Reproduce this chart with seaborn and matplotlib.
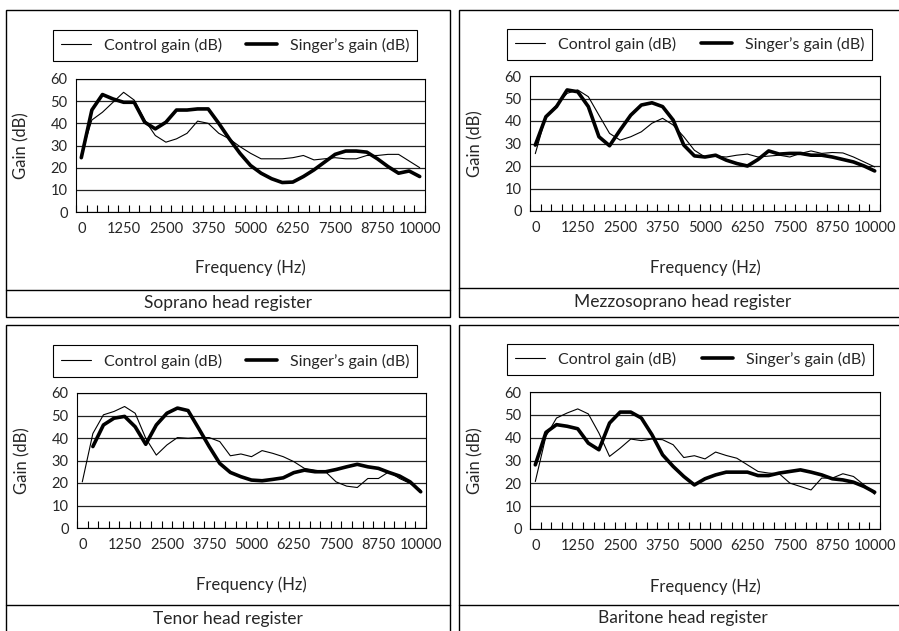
import numpy as np
import pandas as pd
import matplotlib
matplotlib.use("Agg")
import matplotlib.pyplot as plt
import seaborn as sns
from matplotlib.lines import Line2D
from matplotlib.patches import Rectangle
from matplotlib.ticker import MultipleLocator

# frequency categories (Hz), one point per category
freq_hz = [0, 312.5, 625, 937.5, 1250, 1562.5, 1875, 2187.5, 2500, 2812.5,
           3125, 3437.5, 3750, 4062.5, 4375, 4687.5, 5000, 5312.5, 5625, 5937.5,
           6250, 6562.5, 6875, 7187.5, 7500, 7812.5, 8125, 8437.5, 8750, 9062.5,
           9375, 9687.5, 10000]
x_ticks = [0, 1250, 2500, 3750, 5000, 6250, 7500, 8750, 10000]
x_tick_labels = ["0", "1250", "2500", "3750", "5000", "6250", "7500", "8750", "10000"]
y_ticks = [0, 10, 20, 30, 40, 50, 60]
series_labels = ["Control gain (dB)", "Singer\u2019s gain (dB)"]
captions = ["Soprano head register", "Mezzosoprano head register",
            "Tenor head register", "Baritone head register"]

soprano_control = [26, 41.5, 45, 49.5, 54, 50.5, 41.5, 34.5, 31.5, 33, 35.5, 41, 40,
                   35.5, 33, 29.5, 26.5, 24, 24, 24, 24.5, 25.5, 23.5, 24, 24.5, 24,
                   24, 25.5, 25.5, 26, 26, 23, 20]
soprano_singer = [24.5, 46, 53, 51, 49.5, 49.5, 40.5, 37.5, 40.5, 46, 46, 46.5, 46.5,
                  40, 33, 26.5, 21, 17.5, 15, 13.3, 13.5, 16, 19, 22.5, 26, 27.5,
                  27.5, 27, 24, 20.5, 17.5, 18.5, 16]

mezzo_control = [25.5, 42, 47, 52.3, 53.8, 50.8, 42.6, 34.5, 31.5, 33, 35.2, 39, 41.2,
                 38.2, 33, 27, 24, 24.4, 24, 24.8, 25.3, 24, 24.4, 24.8, 24, 25.6,
                 26.7, 25.6, 26, 25.8, 24, 21.8, 19.6]
mezzo_singer = [29.3, 41.9, 46.4, 53.8, 53, 46.4, 33, 29, 36, 42.6, 47.1, 48.1, 46.4,
                40.4, 29.3, 24.5, 24, 24.8, 22.6, 21.1, 20, 22.9, 26.7, 25.3, 25.6,
                25.6, 24.8, 24.8, 24, 22.9, 21.8, 20, 17.8]

tenor_control = [20.5, 42, 50.3, 51.8, 54, 51, 39.9, 32.4, 36.9, 40.2, 39.9, 40.2,
                 40.2, 38.4, 32.1, 32.9, 31.7, 34.4, 33.2, 31.7, 29.5, 26.5, 25.7, 25,
                 20.5, 18.6, 18, 22, 22, 25, 22, 19.8, 16.8]
tenor_singer = [np.nan, 36.2, 45.8, 48.8, 49.6, 45, 37.2, 45.8, 51, 53.3, 52.2, 44.3,
                36.2, 28.7, 24.7, 22.8, 21.3, 21, 21.6, 22.3, 24.6, 25.7, 25, 25, 26,
                27.2, 28.3, 27.2, 26.5, 24.7, 23.1, 20.5, 16.1]

baritone_control = [20.8, 40.6, 48.6, 50.8, 52.6, 50.4, 42, 31.8, 35.4, 39.4, 38.7,
                    39.4, 39.1, 36.9, 31.3, 32.1, 30.7, 33.7, 32.2, 31, 28.1, 25.2,
                    24.5, 24.2, 20.1, 18.6, 17.1, 22.3, 22.3, 24.2, 23, 19.3, 15.2]
baritone_singer = [28.1, 42.3, 45.7, 45, 43.9, 37.6, 34.7, 46.4, 51.2, 51.2, 48.6,
                   41.3, 32.5, 27.4, 23, 19.3, 22, 23.7, 24.9, 24.9, 24.9, 23.4, 23.4,
                   24.5, 25.2, 25.9, 24.9, 23.7, 22, 21.5, 20.5, 18.6, 16.1]

W, H = 899, 631


def frac_rect(x0, y0, x1, y1):
    # pixel box (top-left origin) -> figure fraction [left, bottom, width, height]
    return [x0 / W, 1 - y1 / H, (x1 - x0) / W, (y1 - y0) / H]


# layout in pixels: plot area, legend box, panel frame, caption divider, caption centre
panels = [
    dict(control=soprano_control, singer=soprano_singer, caption=captions[0],
         axes=(76, 79, 425, 212), legend=(53, 29, 417, 62),
         frame=(6, 10, 450, 317), divider=290, cap=(228, 303)),
    dict(control=mezzo_control, singer=mezzo_singer, caption=captions[1],
         axes=(530, 76, 880, 211), legend=(507, 28, 872, 61),
         frame=(459, 10, 905, 317), divider=288, cap=(683, 302)),
    dict(control=tenor_control, singer=tenor_singer, caption=captions[2],
         axes=(77, 393, 426, 528), legend=(53, 344, 417, 378),
         frame=(6, 325, 450, 640), divider=605, cap=(228, 619)),
    dict(control=baritone_control, singer=baritone_singer, caption=captions[3],
         axes=(530, 392, 880, 529), legend=(507, 343, 873, 376),
         frame=(459, 325, 905, 640), divider=605, cap=(683, 618)),
]

sns.set_style("white")
plt.rcParams["font.family"] = ["Lato", "DejaVu Sans"]

fig = plt.figure(figsize=(W / 100, H / 100), dpi=100)

for p in panels:
    fx0, fy0, fx1, fy1 = p["frame"]
    fig.add_artist(Rectangle((fx0 / W, 1 - fy1 / H), (fx1 - fx0) / W, (fy1 - fy0) / H,
                             transform=fig.transFigure, fill=False, lw=1.0, ec="black"))
    fig.add_artist(Line2D([fx0 / W, fx1 / W], [1 - p["divider"] / H] * 2,
                          transform=fig.transFigure, lw=1.0, color="black"))
    fig.text(p["cap"][0] / W, 1 - p["cap"][1] / H, p["caption"],
             ha="center", va="center", fontsize=12.5)

    ax = fig.add_axes(frac_rect(*p["axes"]))
    df = pd.DataFrame({"freq": freq_hz, "control": p["control"], "singer": p["singer"]})
    sns.lineplot(data=df, x="freq", y="control", ax=ax, color="black", lw=0.8)
    sns.lineplot(data=df.dropna(), x="freq", y="singer", ax=ax, color="black", lw=2.6)

    ax.set_xlim(-156.25, 10156.25)
    ax.set_ylim(0, 60)
    ax.set_yticks(y_ticks)
    ax.set_xticks(x_ticks)
    ax.set_xticklabels(x_tick_labels)
    ax.xaxis.set_minor_locator(MultipleLocator(312.5, offset=156.25))
    ax.tick_params(axis="x", which="major", bottom=True, length=0, pad=7, labelsize=10.5)
    ax.tick_params(axis="x", which="minor", bottom=True, direction="in", length=5,
                   width=0.8, color="black")
    ax.tick_params(axis="y", length=0, pad=6, labelsize=10.5)
    ax.grid(axis="y", color="#222222", lw=0.9)
    ax.grid(axis="x", visible=False)
    for s in ax.spines.values():
        s.set_color("black")
        s.set_linewidth(0.8)

    ax.set_xlabel("Frequency (Hz)", fontsize=12)
    ax.xaxis.set_label_coords(0.5, -0.36)
    ax.set_ylabel("Gain (dB)", fontsize=12)
    ax.yaxis.set_label_coords(-0.132, 0.5)

    lx0, ly0, lx1, ly1 = p["legend"]
    handles = [Line2D([], [], color="black", lw=0.8), Line2D([], [], color="black", lw=2.6)]
    leg = fig.legend(handles, series_labels, loc="center",
                     bbox_to_anchor=(lx0 / W, 1 - ly1 / H, (lx1 - lx0) / W, (ly1 - ly0) / H),
                     mode="expand", ncol=2, frameon=True, fancybox=False,
                     edgecolor="black", framealpha=1, fontsize=11.5,
                     handlelength=1.9, borderpad=0.5, borderaxespad=0)
    leg.get_frame().set_linewidth(0.8)

fig.savefig("out.png", dpi=100)
